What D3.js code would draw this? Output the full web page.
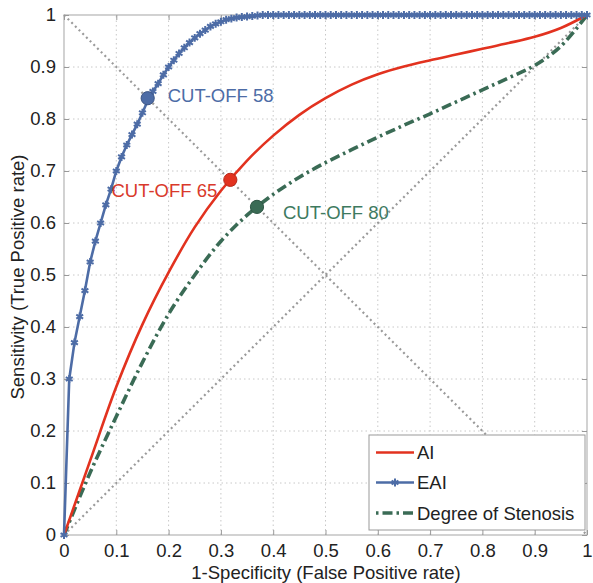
<!DOCTYPE html>
<html><head><meta charset="utf-8">
<script src="https://cdn.jsdelivr.net/npm/d3@7"></script>
<style>body{margin:0;background:#fff}svg{display:block}text{font-family:"Liberation Sans",Arial,Helvetica,sans-serif}</style>
</head><body><div id="chart"></div>
<script>
const xTicks = [0,0.1,0.2,0.3,0.4,0.5,0.6,0.7,0.8,0.9,1];
const yTicks = [0,0.1,0.2,0.3,0.4,0.5,0.6,0.7,0.8,0.9,1];
const tickLabels = ["0","0.1","0.2","0.3","0.4","0.5","0.6","0.7","0.8","0.9","1"];
const seriesNames = ["AI","EAI","Degree of Stenosis"];

const aiPoints = [[0,0],[0.05,0.143],[0.1,0.285],[0.15,0.405],[0.2,0.505],[0.25,0.592],[0.3,0.662],[0.35,0.72],[0.4,0.768],[0.45,0.808],[0.5,0.84],[0.55,0.866],[0.6,0.886],[0.65,0.901],[0.7,0.913],[0.75,0.924],[0.8,0.935],[0.85,0.946],[0.9,0.958],[0.95,0.975],[1,1]];

const eaiPoints = [[0,0],[0.01,0.30],[0.02,0.37],[0.03,0.42],[0.04,0.47],[0.05,0.525],[0.06,0.565],[0.07,0.60],[0.08,0.635],[0.09,0.665],[0.10,0.70],[0.11,0.727],[0.12,0.75],[0.13,0.77],[0.14,0.79],[0.15,0.812],[0.16,0.835],[0.17,0.853],[0.18,0.868],[0.19,0.885],[0.20,0.90],[0.21,0.913],[0.22,0.926],[0.23,0.937],[0.24,0.947],[0.25,0.956],[0.26,0.964],[0.27,0.971],[0.28,0.978],[0.29,0.983],[0.30,0.987],[0.31,0.991],[0.32,0.993],[0.33,0.995],[0.34,0.996],[0.35,0.997],[0.36,0.998],[0.37,0.999],[0.38,1],[0.39,1],[0.40,1],[0.41,1],[0.42,1],[0.43,1],[0.44,1],[0.45,1],[0.46,1],[0.47,1],[0.48,1],[0.49,1],[0.50,1],[0.51,1],[0.52,1],[0.53,1],[0.54,1],[0.55,1],[0.56,1],[0.57,1],[0.58,1],[0.59,1],[0.60,1],[0.61,1],[0.62,1],[0.63,1],[0.64,1],[0.65,1],[0.66,1],[0.67,1],[0.68,1],[0.69,1],[0.70,1],[0.71,1],[0.72,1],[0.73,1],[0.74,1],[0.75,1],[0.76,1],[0.77,1],[0.78,1],[0.79,1],[0.80,1],[0.81,1],[0.82,1],[0.83,1],[0.84,1],[0.85,1],[0.86,1],[0.87,1],[0.88,1],[0.89,1],[0.90,1],[0.91,1],[0.92,1],[0.93,1],[0.94,1],[0.95,1],[0.96,1],[0.97,1],[0.98,1],[0.99,1],[1,1]];

const stenosisPoints = [[0,0],[0.05,0.12],[0.1,0.228],[0.15,0.332],[0.2,0.425],[0.25,0.5],[0.3,0.565],[0.35,0.615],[0.4,0.655],[0.45,0.688],[0.5,0.716],[0.55,0.741],[0.6,0.765],[0.65,0.788],[0.7,0.81],[0.75,0.833],[0.8,0.856],[0.85,0.879],[0.9,0.903],[0.95,0.94],[1,1]];

const cutoffs = [
  {label:"CUT-OFF 58", x:0.16, y:0.84, series:"EAI"},
  {label:"CUT-OFF 65", x:0.318, y:0.683, series:"AI"},
  {label:"CUT-OFF 80", x:0.369, y:0.631, series:"Degree of Stenosis"}
];
const diag1 = [[0,0],[1,1]];
const diag2 = [[0,1],[1,0]];

const W = 593, H = 583;
const FS = "18.5px";
const colors = {"AI":"#e2321f","EAI":"#4d6ca6","Degree of Stenosis":"#3a6b55"};
const labelColors = {"AI":"#d9392b","EAI":"#4d6ca6","Degree of Stenosis":"#3e7a5f"};
const x = d3.scaleLinear().domain([0,1]).range([64,587]);
const y = d3.scaleLinear().domain([0,1]).range([535,15]);

const svg = d3.select("#chart").append("svg").attr("width",W).attr("height",H);

// grid
const g = svg.append("g");
g.selectAll(".vg").data(xTicks.slice(1,-1)).enter().append("line")
  .attr("x1",d=>x(d)).attr("x2",d=>x(d)).attr("y1",y(0)).attr("y2",y(1))
  .attr("stroke","#c8c8c8").attr("stroke-width",1).attr("stroke-dasharray","1.5,3");
g.selectAll(".hg").data(yTicks.slice(1,-1)).enter().append("line")
  .attr("y1",d=>y(d)).attr("y2",d=>y(d)).attr("x1",x(0)).attr("x2",x(1))
  .attr("stroke","#c8c8c8").attr("stroke-width",1).attr("stroke-dasharray","1.5,3");

// frame
svg.append("rect").attr("x",x(0)).attr("y",y(1)).attr("width",x(1)-x(0)).attr("height",y(0)-y(1))
  .attr("fill","none").attr("stroke","#b4b4b4").attr("stroke-width",1.2);

// axes
const xAxisB = d3.axisBottom(x).tickValues(xTicks).tickFormat((d,i)=>tickLabels[i]).tickSizeInner(-5).tickSizeOuter(0).tickPadding(9);
const yAxisL = d3.axisLeft(y).tickValues(yTicks).tickFormat((d,i)=>tickLabels[i]).tickSizeInner(-5).tickSizeOuter(0).tickPadding(8);
const xAxisT = d3.axisTop(x).tickValues(xTicks).tickFormat("").tickSizeInner(-5).tickSizeOuter(0);
const yAxisR = d3.axisRight(y).tickValues(yTicks).tickFormat("").tickSizeInner(-5).tickSizeOuter(0);
function styleAxis(sel){
  sel.select(".domain").remove();
  sel.selectAll(".tick line").attr("stroke","#999");
  sel.selectAll(".tick text").attr("fill","#222").style("font-size",FS).style("font-family",'"Liberation Sans",Arial,sans-serif');
}
svg.append("g").attr("transform",`translate(0,${y(0)})`).call(xAxisB).call(styleAxis);
svg.append("g").attr("transform",`translate(${x(0)},0)`).call(yAxisL).call(styleAxis);
svg.append("g").attr("transform",`translate(0,${y(1)})`).call(xAxisT).call(styleAxis);
svg.append("g").attr("transform",`translate(${x(1)},0)`).call(yAxisR).call(styleAxis);

// diagonals
const straight = d3.line().x(d=>x(d[0])).y(d=>y(d[1]));
[diag1,diag2].forEach(dd=>{
  svg.append("path").attr("d",straight(dd)).attr("fill","none")
    .attr("stroke","#9a9a9a").attr("stroke-width",2.2).attr("stroke-dasharray","2,3.2");
});

const smooth = d3.line().x(d=>x(d[0])).y(d=>y(d[1])).curve(d3.curveCatmullRom.alpha(0.5));

// Degree of Stenosis
svg.append("path").attr("d",smooth(stenosisPoints)).attr("fill","none")
  .attr("stroke",colors["Degree of Stenosis"]).attr("stroke-width",3.6)
  .attr("stroke-dasharray","10,4,2.5,4");
// AI
svg.append("path").attr("d",smooth(aiPoints)).attr("fill","none")
  .attr("stroke",colors["AI"]).attr("stroke-width",2.6);
// EAI
svg.append("path").attr("d",straight(eaiPoints)).attr("fill","none")
  .attr("stroke",colors["EAI"]).attr("stroke-width",2.6);
const star = d3.symbol().type(d3.symbolAsterisk).size(44);
svg.selectAll(".eaim").data(eaiPoints).enter().append("path")
  .attr("d",star).attr("transform",d=>`translate(${x(d[0])},${y(d[1])})`)
  .attr("fill","none").attr("stroke",colors["EAI"]).attr("stroke-width",2);

// cut-off points
svg.selectAll(".cut").data(cutoffs).enter().append("circle")
  .attr("cx",d=>x(d.x)).attr("cy",d=>y(d.y)).attr("r",6.6)
  .attr("fill",d=>colors[d.series]).attr("stroke",d=>d3.color(colors[d.series]).darker(0.6)).attr("stroke-width",1);
const labelPos = [{dx:20,dy:4,anchor:"start"},{dx:-13,dy:17,anchor:"end"},{dx:26,dy:12.5,anchor:"start"}];
svg.selectAll(".cutl").data(cutoffs).enter().append("text")
  .attr("x",(d,i)=>x(d.x)+labelPos[i].dx).attr("y",(d,i)=>y(d.y)+labelPos[i].dy)
  .attr("text-anchor",(d,i)=>labelPos[i].anchor)
  .attr("fill",d=>labelColors[d.series]).style("font-size",FS).text(d=>d.label);

// axis titles
svg.append("text").attr("x",326).attr("y",579).attr("text-anchor","middle")
  .attr("fill","#222").style("font-size",FS).text("1-Specificity (False Positive rate)");
svg.append("text").attr("transform","translate(24,277) rotate(-90)").attr("text-anchor","middle")
  .attr("fill","#222").style("font-size",FS).text("Sensitivity (True Positive rate)");

// legend
const lg = svg.append("g");
lg.append("rect").attr("x",369).attr("y",435).attr("width",216).attr("height",95)
  .attr("fill","#fff").attr("stroke","#9a9a9a").attr("stroke-width",1);
const legY = [452.5,482.5,513];
seriesNames.forEach((s,i)=>{
  const ln = lg.append("line").attr("x1",376).attr("x2",414).attr("y1",legY[i]).attr("y2",legY[i])
    .attr("stroke",colors[s]).attr("stroke-width",s==="Degree of Stenosis"?3.6:2.6);
  if(s==="Degree of Stenosis") ln.attr("stroke-dasharray","2.5,4,10,4");
  if(s==="EAI") lg.append("path").attr("d",star).attr("transform",`translate(395,${legY[i]})`)
    .attr("fill","none").attr("stroke",colors[s]).attr("stroke-width",2);
  lg.append("text").attr("x",417).attr("y",legY[i]+6.5).attr("fill","#222")
    .style("font-size",FS).text(s);
});
</script></body></html>
